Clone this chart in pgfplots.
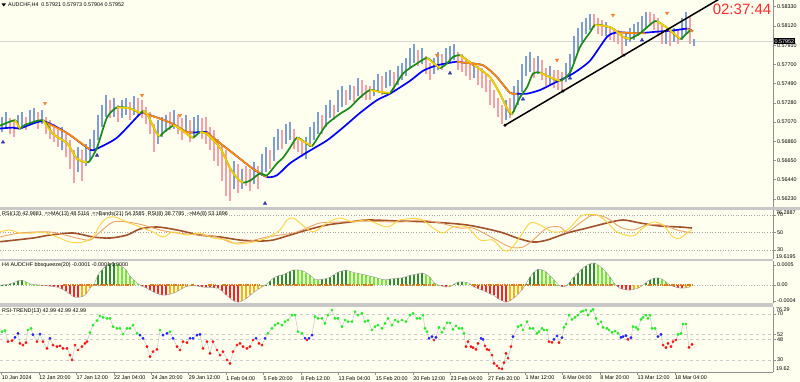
\documentclass[border=0pt]{standalone}
\usepackage{pgfplots}
\pgfplotsset{compat=1.18}
\usepackage{pgfplotstable}
\usepackage{fontspec}
\setmainfont{Liberation Sans}
\definecolor{bg}{HTML}{FFFFF0}
\definecolor{upc}{HTML}{7F9ED6}
\definecolor{dnc}{HTML}{F4A2A8}
\definecolor{slowup}{HTML}{0000FF}
\definecolor{slowdn}{HTML}{FF8C00}
\definecolor{fastup}{HTML}{1A8A1A}
\definecolor{fastdn}{HTML}{FFCC00}
\definecolor{sep}{HTML}{C8C8C8}
\definecolor{axgray}{HTML}{909090}
\definecolor{rsiY}{HTML}{FFD43B}
\definecolor{rsiM}{HTML}{E9A46E}
\definecolor{rsiD}{HTML}{A0522D}
\definecolor{dg}{HTML}{2E8B2E}
\definecolor{lg}{HTML}{66F020}
\definecolor{rd}{HTML}{FF2020}
\definecolor{og}{HTML}{FFB000}
\definecolor{sq}{HTML}{E07B1A}
\definecolor{tg}{HTML}{22EE22}
\definecolor{tb}{HTML}{1E1EFF}
\definecolor{tr}{HTML}{FF1010}
\definecolor{clk}{HTML}{FF2A2A}
\definecolor{sell}{HTML}{FF7F27}
\definecolor{buy}{HTML}{3A3AB0}
\newcommand\sm{\fontsize{5.4}{6}\selectfont}

\pgfplotsset{
  panel/.style={
    scale only axis, width=773pt, xmin=0, xmax=773, anchor=north west,
    axis y line*=right,
    y axis line style={draw=axgray, line width=0.8pt},
    ytick style={draw=axgray, line width=0.6pt},
    tick align=outside, major tick length=3pt,
    yticklabel style={font=\sm, anchor=west, inner sep=0pt, xshift=1pt},
    scaled y ticks=false,
    /pgf/number format/assume math mode=true,
    clip mode=individual,
  },
}

% candles: x low high
\pgfplotstableread{
x lo hi
2 .5696 .5713
6 .5700 .5718
18 .5700 .5715
22 .5702 .5718
30 .5705 .5720
34 .5707 .5722
42 .5705 .5720
62 .5676 .5702
78 .5652 .5680
86 .5659 .5683
90 .5665 .5689
94 .5676 .5698
98 .5687 .5715
102 .5702 .5726
106 .5713 .5737
114 .5713 .5733
122 .5711 .5731
126 .5715 .5733
134 .5715 .5735
158 .5683 .5709
162 .5691 .5713
166 .5696 .5715
174 .5700 .5720
186 .5694 .5715
194 .5691 .5713
198 .5694 .5715
234 .5634 .5665
242 .5634 .5656
254 .5639 .5663
262 .5648 .5672
266 .5652 .5680
274 .5665 .5691
278 .5676 .5700
286 .5683 .5705
290 .5687 .5707
306 .5667 .5691
310 .5680 .5702
314 .5687 .5707
318 .5694 .5718
326 .5702 .5726
330 .5711 .5731
338 .5718 .5742
342 .5724 .5746
350 .5731 .5748
358 .5735 .5755
374 .5735 .5753
378 .5740 .5759
386 .5744 .5762
390 .5746 .5764
398 .5748 .5768
402 .5753 .5772
406 .5757 .5777
410 .5766 .5788
414 .5772 .5792
422 .5770 .5788
434 .5759 .5777
438 .5764 .5783
446 .5770 .5788
450 .5772 .5790
454 .5775 .5792
474 .5755 .5770
506 .5709 .5731
514 .5718 .5746
518 .5726 .5753
522 .5740 .5770
526 .5757 .5779
530 .5762 .5783
538 .5759 .5779
550 .5748 .5768
566 .5751 .5772
570 .5757 .5781
574 .5772 .5801
578 .5783 .5810
582 .5794 .5816
586 .5803 .5821
590 .5807 .5825
606 .5801 .5816
626 .5790 .5805
630 .5794 .5810
634 .5797 .5814
638 .5801 .5816
642 .5805 .5823
646 .5810 .5827
666 .5792 .5807
674 .5794 .5810
682 .5797 .5821
686 .5803 .5827
694 .57904 .57973
}\candlesup

\pgfplotstableread{
x lo hi
10 .5694 .5711
14 .5691 .5709
26 .5698 .5713
38 .5700 .5718
46 .5694 .5713
50 .5689 .5709
54 .5685 .5705
58 .5680 .5700
66 .5669 .5694
70 .5656 .5687
74 .5641 .5676
82 .5643 .5676
110 .5711 .5731
118 .5707 .5726
130 .5709 .5729
138 .5713 .5733
142 .5711 .5731
146 .5705 .5724
150 .5694 .5718
154 .5674 .5705
170 .5698 .5718
178 .5694 .5715
182 .5687 .5711
190 .5685 .5709
202 .5689 .5711
206 .5683 .5713
210 .5676 .5702
214 .5665 .5698
218 .5659 .5689
222 .5643 .5683
226 .5626 .5676
230 .5621 .5656
238 .5630 .5661
246 .5637 .5659
250 .5632 .5656
258 .5634 .5659
270 .5656 .5676
282 .5678 .5698
294 .5678 .5700
298 .5674 .5691
302 .5669 .5687
322 .5694 .5715
334 .5709 .5726
346 .5726 .5742
354 .5729 .5746
362 .5733 .5753
366 .5731 .5748
370 .5731 .5746
382 .5737 .5757
394 .5742 .5762
418 .5768 .5786
426 .5759 .5779
430 .5753 .5772
442 .5764 .5781
458 .5764 .5783
462 .5762 .5781
466 .5757 .5775
470 .5753 .5772
478 .5748 .5768
482 .5744 .5766
486 .5740 .5759
490 .5726 .5753
494 .5722 .5742
498 .5713 .5733
502 .5705 .5726
510 .5711 .5733
534 .5755 .5777
542 .5753 .5775
546 .5746 .5766
554 .5744 .5764
558 .5742 .5764
562 .5740 .5762
594 .5810 .5825
598 .5803 .5821
602 .5801 .5818
610 .5797 .5812
614 .5794 .5810
618 .5792 .5807
622 .5779 .5803
650 .5812 .5827
654 .5807 .5825
658 .5801 .5821
662 .5792 .5814
670 .5790 .5807
678 .5792 .5807
690 .5792 .5823
}\candlesdn

% bbsqueeze histogram: x value class (1 dark green, 2 light green, 3 red, 4 orange)
\pgfplotstableread{
x v k
2 0.000005 1
6 0.00001 1
10 0.00003 1
14 0.00006 1
18 0.00011 1
22 0.00012 1
26 0.00008 2
30 0.00003 2
34 0.00001 2
38 0.000005 2
42 -0.000005 3
46 -0.000015 3
50 -0.00003 3
54 -0.00004 3
58 -0.00006 3
62 -0.0001 3
66 -0.00016 3
70 -0.00023 3
74 -0.0003 3
78 -0.00031 3
82 -0.00029 4
86 -0.00023 4
90 -0.00008 4
94 0.00002 1
98 0.00025 1
102 0.00038 1
106 0.00048 1
110 0.00054 1
114 0.00055 1
118 0.00052 2
122 0.00046 2
126 0.00038 2
130 0.00022 2
134 0.00012 2
138 0.00003 2
142 -0.00003 3
146 -0.00007 3
150 -0.00013 3
154 -0.00018 3
158 -0.00022 3
162 -0.00025 3
166 -0.00025 3
170 -0.00023 4
174 -0.0002 4
178 -0.00015 4
182 -0.00009 4
186 -0.00004 4
190 -0.00002 4
194 -0.00001 4
198 -0.00003 3
202 -0.00005 3
206 -0.00006 3
210 -0.00006 3
214 -0.00007 3
218 -0.00008 3
222 -0.00015 3
226 -0.00024 3
230 -0.00033 3
234 -0.0004 3
238 -0.00043 3
242 -0.0004 4
246 -0.00034 4
250 -0.00026 4
254 -0.00018 4
258 -0.00011 4
262 -0.00005 4
266 0.00001 1
270 0.0001 1
274 0.00018 1
278 0.00023 1
282 0.00025 1
286 0.00029 1
290 0.00034 1
294 0.00038 1
298 0.00038 2
302 0.00036 2
306 0.00031 2
310 0.00024 2
314 0.00016 2
318 0.00013 2
322 0.00014 1
326 0.00016 1
330 0.00019 1
334 0.00026 1
338 0.00032 1
342 0.00035 1
346 0.00037 1
350 0.00034 2
354 0.00031 2
358 0.00029 2
362 0.00027 2
366 0.00025 2
370 0.00022 2
374 0.0002 2
378 0.00017 2
382 0.00014 2
386 0.00013 2
390 0.00015 1
394 0.00016 1
398 0.00017 1
402 0.00018 1
406 0.00021 1
410 0.00024 1
414 0.00026 1
418 0.00028 1
422 0.0003 1
426 0.00026 2
430 0.00019 2
434 0.00006 2
438 0.000005 2
442 -0.00003 3
446 -0.00005 3
450 -0.00004 4
454 0.00002 1
458 0.00007 1
462 0.00008 1
466 0.00007 2
470 0.00003 2
474 -0.00005 3
478 -0.00009 3
482 -0.00013 3
486 -0.00017 3
490 -0.00022 3
494 -0.00026 3
498 -0.00034 3
502 -0.00039 3
506 -0.00043 3
510 -0.00039 4
514 -0.00032 4
518 -0.00023 4
522 -0.00012 4
526 0.00003 1
530 0.0002 1
534 0.00032 1
538 0.00039 1
542 0.00038 2
546 0.00033 2
550 0.00023 2
554 0.00013 2
558 0.00001 2
562 -0.00004 3
566 -0.00003 4
570 0.00008 1
574 0.00021 1
578 0.0003 1
582 0.0004 1
586 0.00048 1
590 0.00053 1
594 0.00055 1
598 0.0005 2
602 0.00043 2
606 0.00032 2
610 0.0002 2
614 0.00005 2
618 -0.00005 3
622 -0.0001 3
626 -0.00012 3
630 -0.00013 3
634 -0.00011 4
638 -0.00008 4
642 -0.00002 4
646 0.00006 1
650 0.00013 1
654 0.00017 1
658 0.00018 1
662 0.00014 2
666 0.00008 2
670 -0.000005 3
674 -0.00004 3
678 -0.00007 3
682 -0.00008 3
686 -0.00007 4
690 -0.00005 4
}\bbs

\pgfplotstableread{
x y
63 0
133 0
nan nan
150 0
187 0
nan nan
191 0
194 0
nan nan
208 0
215 0
nan nan
222 0
260 0
nan nan
273 0
275 0
nan nan
278 0
373 0
nan nan
400 0
435 0
nan nan
472 0
557 0
nan nan
570 0
613 0
nan nan
648 0
692 0
}\squeeze

% RSI-TREND: x value class
\pgfplotstableread{
x v c
2 54.6 g
5 55.5 g
8 45.9 r
12 46.8 r
15 49.7 b
18 53.2 b
20 44.5 r
23 43.0 r
26 45.1 r
28 56.1 g
31 57.5 g
33 52.0 b
37 45.9 r
40 52.6 b
43 45.9 r
47 40.1 r
50 48.9 b
53 43.0 r
57 41.6 r
60 42.2 r
63 40.1 r
67 40.1 r
70 34.3 r
72 30.0 r
75 43.0 r
78 38.7 r
82 41.6 r
85 44.5 r
87 45.9 r
90 53.8 g
93 60.4 g
97 64.2 g
100 68.3 g
103 67.1 g
107 66.2 g
110 66.2 g
113 59.0 g
117 57.5 g
120 57.5 g
123 52.6 g
127 57.5 g
130 57.5 g
133 60.4 g
137 53.2 g
140 51.7 b
143 48.9 b
147 41.6 r
150 32.9 r
153 37.2 r
157 39.3 r
160 56.1 g
163 51.7 b
167 53.2 b
170 54.6 g
173 48.9 b
177 41.6 r
180 38.7 r
183 45.9 r
187 45.1 r
190 48.9 b
193 48.9 b
197 51.7 b
200 52.3 b
203 40.1 r
207 45.9 r
210 35.8 r
213 45.9 r
217 38.7 r
220 34.3 r
223 37.2 r
227 30.0 r
230 27.1 r
233 37.2 r
237 43.0 r
240 44.5 r
243 41.6 r
247 40.1 r
250 41.6 r
253 47.4 r
256 48.9 b
259 44.5 r
262 43.0 r
265 48.9 b
268 53.2 g
272 57.5 g
275 60.4 g
278 61.9 g
282 60.4 g
285 63.3 g
288 64.8 g
292 69.1 g
295 69.1 g
298 54.6 g
302 53.2 g
305 48.9 b
307 47.4 r
309 48.9 b
312 51.7 b
315 67.7 g
318 66.2 g
322 66.2 g
325 61.9 g
328 69.1 g
332 73.5 g
335 66.2 g
338 66.2 g
342 59.0 g
345 64.8 g
348 63.3 g
352 63.3 g
355 72.0 g
358 69.1 g
362 70.6 g
365 63.3 g
368 64.2 g
372 56.1 g
375 59.0 g
378 60.4 g
382 57.5 g
385 61.9 g
388 66.2 g
392 60.4 g
395 64.8 g
398 63.3 g
402 64.8 g
406 63.3 g
410 69.1 g
413 70.6 g
417 66.2 g
420 66.2 g
423 69.1 g
425 57.5 g
427 54.6 g
429 48.9 b
432 50.3 b
434 47.4 r
436 49.7 b
439 58.4 g
442 54.1 g
444 57.5 g
447 62.4 g
450 62.4 g
453 56.7 g
456 59.6 g
459 57.5 g
462 57.5 g
464 53.2 g
466 41.6 r
468 45.9 r
471 41.6 r
473 40.7 r
476 39.3 r
478 44.5 r
481 48.9 b
483 48.0 b
485 42.2 r
487 39.3 r
489 38.7 r
492 34.3 r
494 27.1 r
497 24.8 r
499 22.8 r
502 22.2 r
504 27.7 r
506 35.8 r
508 31.5 r
511 41.6 r
513 50.3 b
518 59.0 g
521 60.4 g
523 56.1 g
527 63.3 g
530 57.5 g
533 57.5 g
537 53.2 g
539 54.6 g
542 57.5 g
544 56.1 g
547 56.1 g
549 45.9 r
552 45.4 r
554 48.0 b
557 50.9 b
559 45.1 r
562 49.4 b
564 58.4 g
566 61.3 g
569 69.1 g
572 65.4 g
575 67.1 g
578 69.1 g
581 72.0 g
583 72.6 g
586 73.5 g
588 69.1 g
591 72.6 g
593 74.1 g
596 66.2 g
598 61.3 g
601 63.3 g
603 58.4 g
607 57.5 g
609 56.1 g
612 54.1 g
615 55.2 g
618 53.2 g
621 49.7 b
623 50.3 b
626 51.2 b
628 48.0 r
631 49.4 b
633 59.0 g
636 58.4 g
638 56.7 g
641 65.4 g
643 67.1 g
646 69.1 g
648 66.2 g
650 69.1 g
652 57.5 g
655 57.5 g
658 50.3 b
661 52.3 b
663 43.0 r
666 40.7 r
668 44.5 r
671 41.6 r
673 45.9 r
676 47.4 r
678 52.3 g
681 53.2 g
683 61.3 g
686 61.3 g
689 41.0 r
692 43.6 r
}\rsitrend

\begin{document}
\begin{tikzpicture}[x=1pt,y=1pt]
\path[use as bounding box] (0,0) rectangle (800,-382);
\fill[bg] (0,0) rectangle (800,-382);

% ================= main price panel =================
\begin{axis}[panel, axis x line=none, at={(0pt,0pt)}, height=207pt,
  ymin=0.56143, ymax=0.58403,
  ytick={0.5623,0.5644,0.5665,0.5686,0.5707,0.5728,0.5749,0.577,0.5791,0.5812,0.5833},
  yticklabels={0.56230,0.56440,0.56650,0.56860,0.57070,0.57280,0.57490,0.57700,0.57910,0.58120,0.58330}]
\addplot[draw=black!17, line width=1.6pt] coordinates {(0,0.57952) (773,0.57952)};
\addplot[draw=none, mark=none, forget plot, error bars/.cd, y dir=plus, y explicit, error mark=none,
  error bar style={draw=upc, line width=1.4pt}]
  table[x=x, y=lo, y error expr=\thisrow{hi}-\thisrow{lo}] \candlesup;
\addplot[draw=none, mark=none, forget plot, error bars/.cd, y dir=plus, y explicit, error mark=none,
  error bar style={draw=dnc, line width=1.4pt}]
  table[x=x, y=lo, y error expr=\thisrow{hi}-\thisrow{lo}] \candlesdn;
% slow MA (blue rising / orange falling)
\addplot[slowup, line width=1.7pt, smooth, tension=0.4] coordinates {
(0,0.5700) (13,0.5701) (20,0.5700) (43,0.5708) (67,0.5695) (90,0.5677) (97,0.5678)
(117,0.5690) (140,0.5716) (143,0.5717) (157,0.5712) (173,0.5705) (187,0.5696) (200,0.5696)
(207,0.5696) (213,0.5690) (233,0.5673) (253,0.5656) (267,0.5647) (277,0.5649) (290,0.5662)
(307,0.5674) (327,0.5687) (343,0.5701) (360,0.5717) (377,0.5731) (390,0.5738) (410,0.5752)
(423,0.5763) (437,0.5769) (457,0.5773) (463,0.5772) (483,0.5769) (497,0.5756) (510,0.5739)
(517,0.5738) (527,0.5738) (540,0.5742) (553,0.5749) (573,0.5760) (590,0.5774) (607,0.5800)
(617,0.5805) (637,0.5804) (660,0.5806) (673,0.5807) (687,0.5809) (693,0.5806)};
\addplot[slowdn, line width=1.7pt, smooth, tension=0.4] coordinates {(43,0.5708) (67,0.5695) (90,0.5677)};
\addplot[slowdn, line width=1.7pt, smooth, tension=0.4] coordinates {(143,0.5717) (157,0.5712) (173,0.5705) (187,0.5696) (193,0.5696)};
\addplot[slowdn, line width=1.7pt, smooth, tension=0.4] coordinates {(207,0.5696) (213,0.5690) (233,0.5673) (253,0.5656) (267,0.5647)};
\addplot[slowdn, line width=1.7pt, smooth, tension=0.4] coordinates {(457,0.5773) (463,0.5772) (483,0.5769) (497,0.5756) (510,0.5739) (517,0.5738)};
\addplot[slowdn, line width=1.7pt, smooth, tension=0.4] coordinates {(617,0.5805) (637,0.5804) (645,0.5804)};
\addplot[slowdn, line width=1.7pt, smooth, tension=0.4] coordinates {(687,0.5809) (693,0.5806)};
% fast MA (green rising / yellow falling)
\addplot[fastup, line width=1.7pt, smooth, tension=0.4] coordinates {
(0,0.5703) (15,0.5709) (20,0.5700) (25,0.5704) (43,0.5709) (53,0.5694) (67,0.5684) (77,0.5667)
(87,0.5663) (90,0.5665) (97,0.5679) (107,0.5712) (117,0.5723) (130,0.5722) (140,0.5717)
(143,0.5719) (147,0.5716) (157,0.5694) (160,0.5692) (165,0.5697) (173,0.5703) (177,0.5702)
(187,0.5694) (193,0.5690) (200,0.5696) (207,0.5694) (220,0.5679) (230,0.5657) (237,0.5646)
(243,0.5641) (250,0.5643) (260,0.5651) (267,0.5649) (277,0.5662) (283,0.5668) (290,0.5679)
(297,0.5690) (305,0.5685) (312,0.5681) (320,0.5694) (327,0.5705) (340,0.5716) (350,0.5723)
(360,0.5734) (370,0.5742) (380,0.5740) (390,0.5739) (403,0.5760) (417,0.5771) (427,0.5777)
(435,0.5770) (440,0.5766) (447,0.5771) (453,0.5778) (460,0.5780) (468,0.5774) (477,0.5767)
(490,0.5756) (500,0.5738) (507,0.5722) (512,0.5716) (520,0.5734) (527,0.5745) (533,0.5760)
(540,0.5761) (550,0.5756) (560,0.5752) (570,0.5761) (580,0.5789) (590,0.5805) (595,0.5813)
(605,0.5812) (613,0.5809) (623,0.5800) (630,0.5798) (640,0.5804) (653,0.5816) (657,0.5817)
(667,0.5810) (680,0.5798) (685,0.5802) (690,0.5807)};
\addplot[fastdn, line width=1.7pt, smooth, tension=0.4] coordinates {(15,0.5709) (20,0.5700)};
\addplot[fastdn, line width=1.7pt, smooth, tension=0.4] coordinates {(43,0.5709) (53,0.5694) (67,0.5684) (77,0.5667) (87,0.5663)};
\addplot[fastdn, line width=1.7pt, smooth, tension=0.4] coordinates {(117,0.5723) (130,0.5722) (140,0.5717)};
\addplot[fastdn, line width=1.7pt, smooth, tension=0.4] coordinates {(143,0.5719) (147,0.5716) (157,0.5694) (160,0.5692)};
\addplot[fastdn, line width=1.7pt, smooth, tension=0.4] coordinates {(173,0.5703) (177,0.5702) (187,0.5694) (193,0.5690)};
\addplot[fastdn, line width=1.7pt, smooth, tension=0.4] coordinates {(200,0.5696) (207,0.5694) (220,0.5679) (230,0.5657) (237,0.5646) (243,0.5641)};
\addplot[fastdn, line width=1.7pt, smooth, tension=0.4] coordinates {(297,0.5690) (305,0.5685) (312,0.5681)};
\addplot[fastdn, line width=1.7pt, smooth, tension=0.4] coordinates {(370,0.5742) (380,0.5740) (390,0.5739)};
\addplot[fastdn, line width=1.7pt, smooth, tension=0.4] coordinates {(427,0.5777) (435,0.5770) (440,0.5766)};
\addplot[fastdn, line width=1.7pt, smooth, tension=0.4] coordinates {(460,0.5780) (468,0.5774) (477,0.5767) (490,0.5756) (500,0.5738) (507,0.5722) (512,0.5716)};
\addplot[fastdn, line width=1.7pt, smooth, tension=0.4] coordinates {(540,0.5761) (550,0.5756) (560,0.5752)};
\addplot[fastdn, line width=1.7pt, smooth, tension=0.4] coordinates {(595,0.5813) (605,0.5812) (613,0.5809) (623,0.5800) (630,0.5798)};
\addplot[fastdn, line width=1.7pt, smooth, tension=0.4] coordinates {(657,0.5817) (667,0.5810) (680,0.5798)};
% trend line
\addplot[black, line width=1.5pt] coordinates {(505,0.57036) (735,0.58515)};
\addplot[only marks, mark=*, mark size=1.3pt, black] coordinates {(505,0.57036) (563,0.57409) (624,0.57801)};
% arrows
\addplot[only marks, mark=triangle*, mark size=1.9pt, mark options={rotate=180, fill=sell, draw=sell}]
  coordinates {(45,0.57276) (142,0.57364) (180,0.57145) (437,0.57801) (473,0.57700) (557,0.57747) (613,0.58239) (667,0.58261)};
\addplot[only marks, mark=triangle*, mark size=2pt, mark options={fill=buy, draw=buy}]
  coordinates {(3,0.56850) (97,0.56707) (265,0.56182) (450,0.57604) (523,0.57320) (570,0.57550) (642,0.57965)};
\node[fill=black, text=white, font=\sm, inner sep=0.9pt, anchor=west] at (axis cs:773.5,0.57952) {0.57952};
\end{axis}

% ================= RSI panel =================
\begin{axis}[panel, axis x line=none, at={(0pt,-209.5pt)}, height=49.6pt,
  ymin=19.6195, ymax=76.2887, ytick={30,50,70}, yticklabels={30,50,70}]
\addplot[gray!70, dotted, line width=0.6pt] coordinates {(0,70) (773,70)};
\addplot[gray!70, dotted, line width=0.6pt] coordinates {(0,50) (773,50)};
\addplot[gray!70, dotted, line width=0.6pt] coordinates {(0,30) (773,30)};
\addplot[rsiD, line width=1.6pt, smooth] coordinates {
(0,39.5) (33,43.7) (50,47.1) (73,49.4) (93,44.9) (110,43.7) (127,47.1) (140,54.0) (157,56.3)
(177,52.9) (200,47.1) (220,44.9) (240,41.4) (260,40.3) (273,41.4) (290,47.1) (307,52.9)
(327,58.6) (350,62.0) (367,64.3) (400,63.1) (430,62.0) (467,58.6) (500,50.6) (517,43.7)
(533,39.1) (547,41.4) (567,49.4) (587,55.1) (607,60.9) (623,64.3) (640,60.9) (660,57.4)
(680,56.3) (692,55.1)};
\addplot[rsiM, line width=0.9pt, smooth] coordinates {
(0,44.9) (20,49.4) (50,50.6) (77,43.7) (90,41.4) (100,50.6) (113,62.0) (127,62.0) (143,58.6)
(160,52.9) (177,49.4) (200,47.1) (217,44.9) (233,38.0) (250,40.3) (267,44.9) (293,49.4)
(307,55.1) (320,60.9) (340,62.0) (360,63.1) (400,62.0) (420,64.3) (440,60.9) (460,55.1)
(473,55.1) (493,43.7) (510,33.4) (523,33.4) (533,41.4) (547,55.1) (560,56.3) (567,50.6)
(580,60.9) (593,70.0) (607,66.6) (620,56.3) (633,52.9) (647,58.6) (663,58.6) (677,52.9) (692,49.4)};
\addplot[rsiY, line width=0.9pt, smooth] coordinates {
(0,50.6) (10,52.9) (20,49.4) (33,49.4) (43,50.6) (57,44.9) (70,39.1) (83,39.1) (93,44.9)
(100,58.6) (107,66.6) (115,67.7) (127,62.0) (140,56.3) (153,50.6) (163,44.9) (173,50.6)
(187,47.1) (200,49.4) (213,43.7) (227,41.4) (237,36.9) (253,39.1) (267,43.7) (280,52.9)
(287,64.3) (293,66.6) (300,60.9) (313,50.6) (327,60.9) (340,66.6) (353,62.0) (367,64.3)
(387,56.3) (400,64.3) (420,65.4) (433,55.1) (443,49.4) (453,56.3) (467,56.3) (480,41.4)
(493,41.4) (503,30.0) (510,30.0) (520,44.9) (530,60.9) (540,58.6) (553,50.6) (567,52.9)
(577,64.3) (583,70.0) (597,70.0) (607,62.0) (617,50.6) (633,46.0) (643,55.1) (653,62.0)
(663,58.6) (673,44.9) (680,43.7) (687,49.4) (692,52.9)};
\end{axis}

% ================= bbsqueeze panel =================
\begin{axis}[panel, axis x line=none, at={(0pt,-261pt)}, height=42pt,
  ymin=-0.00045, ymax=0.0006, ytick={-0.0004,0,0.0005}, yticklabels={-0.0004,0.00,0.0005},
  colormap={bbsmap}{color=(dg) color=(lg) color=(rd) color=(og)},
  point meta min=1, point meta max=4]
\addplot[gray!60, dotted, line width=0.6pt] coordinates {(0,0) (773,0)};
\addplot[-, line width=1.3pt, point meta=\thisrow{k},
  quiver={u=0, v={-\thisrow{v}}, colored}] table[x=x,y=v] \bbs;
\addplot[gray!75, line width=0.5pt, smooth] table[x=x,y=v] \bbs;
\addplot[sq, line width=1.6pt, dash pattern=on 1.5pt off 0.8pt, unbounded coords=jump] table[x=x,y=y] \squeeze;
\end{axis}

% ================= RSI-TREND panel =================
\begin{axis}[panel, at={(0pt,-306.8pt)}, height=65.1pt,
  ymin=19.62, ymax=76.29, ytick={30,48,52,70}, yticklabels={30,48,52,70},
  axis x line*=bottom, x axis line style={draw=axgray, line width=0.8pt},
  xtick style={draw=axgray, line width=0.6pt},
  xtick={1.7,39.1,76.5,113.9,151.3,188.7,226.1,263.5,300.9,338.3,375.7,413.1,450.5,487.9,525.3,562.7,600.1,637.5,674.9},
  xticklabels={10 Jan 2024,12 Jan 20:00,17 Jan 12:00,22 Jan 04:00,24 Jan 20:00,29 Jan 12:00,1 Feb 04:00,5 Feb 20:00,8 Feb 12:00,13 Feb 04:00,15 Feb 20:00,20 Feb 12:00,23 Feb 04:00,27 Feb 20:00,1 Mar 12:00,6 Mar 04:00,8 Mar 20:00,13 Mar 12:00,18 Mar 04:00},
  xticklabel style={font=\sm, anchor=north west, inner sep=0pt, yshift=-1pt}]
\addplot[gray!40, dashed, line width=0.6pt] coordinates {(0,70) (773,70)};
\addplot[gray!40, dashed, line width=0.6pt] coordinates {(0,52) (773,52)};
\addplot[gray!40, dashed, line width=0.6pt] coordinates {(0,48) (773,48)};
\addplot[gray!40, dashed, line width=0.6pt] coordinates {(0,30) (773,30)};
\addplot[gray!45, line width=0.5pt] table[x=x,y=v] \rsitrend;
\addplot[scatter, only marks, scatter src=explicit symbolic,
  scatter/classes={g={mark=*, mark size=1.2pt, tg}, b={mark=*, mark size=1.2pt, tb}, r={mark=*, mark size=1.2pt, tr}}]
  table[x=x, y=v, meta=c] \rsitrend;
\end{axis}

% separators
\fill[sep] (0,-207) rectangle (800,-209.5);
\fill[sep] (0,-259.1) rectangle (773,-261);
\fill[sep] (0,-303) rectangle (773,-306.5);

% texts
\fill[black] (1.5,-3.5) -- (6,-3.5) -- (3.75,-6.5) -- cycle;
\node[font=\sm, anchor=west, inner sep=0pt] at (8,-5) {AUDCHF,H4\ \ 0.57921 0.57973 0.57904 0.57952};
\node[font=\fontsize{15}{16}\selectfont, text=clk, inner sep=0pt] at (742,-9.5) {02:37:44};
\node[font=\sm, anchor=west, inner sep=0pt] at (2,-214) {RSI(13) 42.9881\ \ =>MA(13) 48.5116\ \ =>Bands(21) 54.3585\ \ RSI(8) 38.7785\ \ ->MA(8) 53.1896};
\node[font=\sm, anchor=west, inner sep=0pt] at (2,-265) {H4 AUDCHF bbsqueeze(20) -0.0001 -0.0001 0.0000};
\node[font=\sm, anchor=west, inner sep=0pt] at (2,-311) {RSI-TREND(13) 42.99 42.99 42.99};
\node[font=\sm, anchor=west, inner sep=0pt] at (776,-212.7) {76.2887};
\node[font=\sm, anchor=west, inner sep=0pt] at (776,-256.5) {19.6195};
\node[font=\sm, anchor=west, inner sep=0pt] at (776,-310) {76.29};
\node[font=\sm, anchor=west, inner sep=0pt] at (776,-369) {19.62};
\end{tikzpicture}
\end{document}
